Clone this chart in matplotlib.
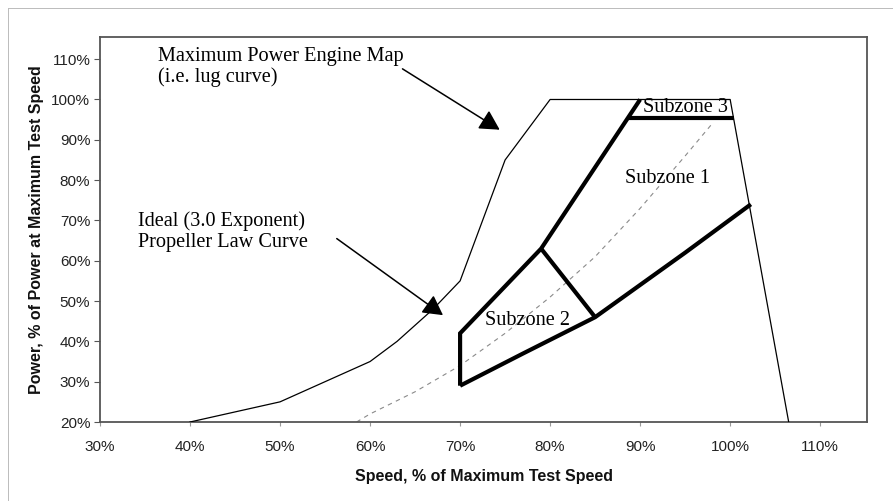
import matplotlib
matplotlib.use('Agg')
import matplotlib.pyplot as plt
from matplotlib.lines import Line2D

# lug curve (maximum power engine map), % speed / % power
lug_speed = [40, 50, 60, 63, 67, 70, 75, 80, 100, 106.5]
lug_power = [20, 25, 35, 40, 48, 55, 85, 100, 100, 20]

# ideal propeller law curve
prop_speed = [58.5, 60, 65, 70, 75, 80, 85, 90, 95, 98]
prop_power = [20, 22, 27.5, 34, 42, 51, 61, 73, 86, 94]

# thick zone boundaries
upper_speed = [70, 70, 79, 90]
upper_power = [29, 42, 63, 100]
lower_speed = [70, 77, 85, 95, 102.3]
lower_power = [29, 37, 46, 62, 74]
divider_speed = [79, 85]
divider_power = [63, 46]
sub3_speed = [88.7, 100.4]
sub3_power = [95.5, 95.5]

x_ticks = [30, 40, 50, 60, 70, 80, 90, 100, 110]
y_ticks = [20, 30, 40, 50, 60, 70, 80, 90, 100, 110]

SERIF = 'Liberation Serif'
SANS = 'Liberation Sans'
FRAME = '#555555'

fig = plt.figure(figsize=(8.93, 5.01), dpi=100)
ax = fig.add_axes([100 / 893, 1 - 422 / 501, 767 / 893, 385 / 501])

ax.plot(lug_speed, lug_power, color='black', lw=0.9, zorder=3)
ax.plot(prop_speed, prop_power, color='#8a8a8a', lw=0.8, dashes=(4, 4), zorder=2)
for xs, ys in [(upper_speed, upper_power), (lower_speed, lower_power),
               (divider_speed, divider_power), (sub3_speed, sub3_power)]:
    ax.plot(xs, ys, color='black', lw=3.0, solid_capstyle='butt',
            solid_joinstyle='miter', zorder=4)

ax.set_xlim(30, 115.2)
ax.set_ylim(20, 115.5)
ax.set_xticks(x_ticks)
ax.set_yticks(y_ticks)
ax.set_xticklabels(['%d%%' % v for v in x_ticks], fontfamily=SANS, fontsize=11, color='#222222')
ax.set_yticklabels(['%d%%' % v for v in y_ticks], fontfamily=SANS, fontsize=11, color='#222222')
ax.tick_params(axis='x', direction='out', length=3, width=0.8, color='#999999', pad=10)
ax.tick_params(axis='y', direction='out', length=4, width=0.8, color=FRAME, pad=3)
for s in ax.spines.values():
    s.set_color(FRAME)
    s.set_linewidth(1.3)

ax.set_xlabel('Speed, % of Maximum Test Speed', fontfamily=SANS, fontsize=11.5,
              fontweight='bold', labelpad=11, color='#111111')
ax.set_ylabel('Power, % of Power at Maximum Test Speed', fontfamily=SANS, fontsize=11.5,
              fontweight='bold', labelpad=5, color='#111111')

# annotations
tkw = dict(fontfamily=SERIF, fontsize=14.6, va='baseline', ha='left', zorder=5)
ax.text(36.4, 109.5, 'Maximum Power Engine Map', **tkw)
ax.text(36.4, 104.3, '(i.e. lug curve)', **tkw)
ax.text(34.2, 68.6, 'Ideal (3.0 Exponent)', **tkw)
ax.text(34.2, 63.4, 'Propeller Law Curve', **tkw)
ax.text(90.3, 96.9, 'Subzone 3', **tkw)
ax.text(88.3, 79.25, 'Subzone 1', **tkw)
ax.text(72.8, 44.0, 'Subzone 2', **tkw)

akw = dict(arrowstyle='-|>,head_length=0.55,head_width=0.3', color='black', lw=1.1,
           mutation_scale=22, shrinkA=0, shrinkB=0)
ax.annotate('', xy=(74.4, 92.5), xytext=(63.6, 107.6), arrowprops=akw)
ax.annotate('', xy=(68.1, 46.5), xytext=(56.3, 65.5), arrowprops=akw)

# faint outer frame of the picture
fig.add_artist(Line2D([8 / 893, 8 / 893], [1 - 8 / 501, 0], color='#bbbbbb', lw=0.7))
fig.add_artist(Line2D([8 / 893, 1], [1 - 8 / 501, 1 - 8 / 501], color='#bbbbbb', lw=0.7))

fig.savefig('out.png', dpi=100, facecolor='white')
